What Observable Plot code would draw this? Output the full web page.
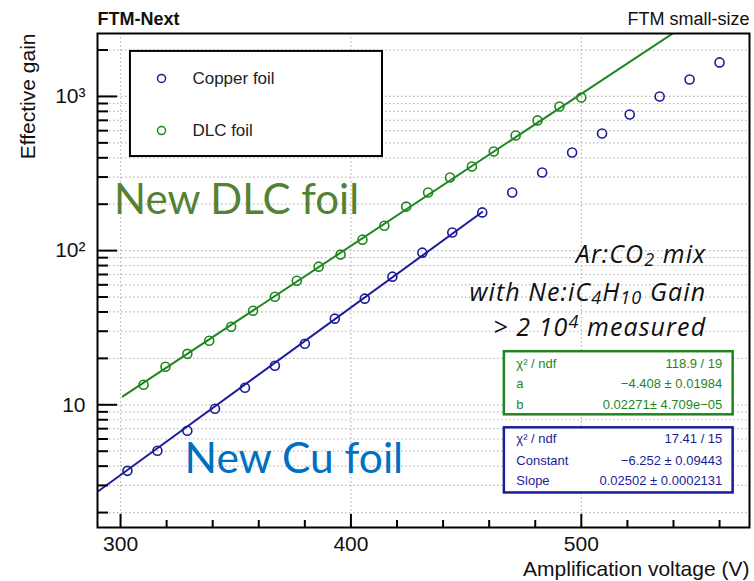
<!DOCTYPE html>
<html><head><meta charset="utf-8">
<script src="https://cdn.jsdelivr.net/npm/d3@7"></script>
<script src="https://cdn.jsdelivr.net/npm/@observablehq/plot@0.6"></script>
<style>body{margin:0;background:#fff} svg{display:block}</style>
</head><body><div id="chart"></div>
<script>
// ---- data ----
const cuVoltage = [303,316,329,341,354,367,380,393,406,418,431,444,457,470,483,496,509,521,534,547,560];
const cuGain    = [3.73,5.03,6.78,9.42,12.9,17.9,24.9,36.2,48.8,67.8,97,131,177,238,321,433,575,764,1000,1289,1663];
const dlcVoltage = [310,319.5,329,338.5,348,357.5,367,376.5,386,395.5,405,414.5,424,433.5,443,452.5,462,471.5,481,490.5,500];
const dlcGain    = [13.5,17.65,21.4,26.0,32.1,40.7,50.2,63.8,78.7,94.2,117.8,145,193,238,298,351,439,558,699,861,985];

// exponential fits exp(a + b*V), parameters from the stat boxes
const fitSeries = ["DLC foil", "Copper foil"];
const fitA = [-4.408, -6.252];
const fitB = [0.02271, 0.02502];
const fitFrom = [301, 290];
const fitTo = [573, 457];

const yMajorTicks = [10, 100, 1000];
const yTickLabels = ["10", "10²", "10³"];
const yMinorTicks = [2,3,4,5,6,7,8,9,20,30,40,50,60,70,80,90,200,300,400,500,600,700,800,900,2000];
const xMajorTicks = [300, 400, 500];
const xTickLabels = ["300", "400", "500"];
const xMinorTicks = [320,340,360,380,420,440,460,480,520,540,560];

const legendLabels = ["Copper foil", "DLC foil"];
const statGreenLabels = ["χ² / ndf", "a", "b"];
const statGreenValues = ["118.9 / 19", "−4.408 ± 0.01984", "0.02271± 4.709e−05"];
const statBlueLabels = ["χ² / ndf", "Constant", "Slope"];
const statBlueValues = ["17.41 / 15", "−6.252 ± 0.09443", "0.02502 ± 0.0002131"];
const annoLines = ["Ar:CO_{2} mix", "with Ne:iC_{4}H_{10} Gain", "> 2 10^{4} measured"];

// ---- build tables ----
const cu = cuVoltage.map((v, i) => ({v, g: cuGain[i]}));
const dlc = dlcVoltage.map((v, i) => ({v, g: dlcGain[i]}));
const fits = fitSeries.flatMap((s, k) => [fitFrom[k], fitTo[k]].map(v => ({s, v, g: Math.exp(fitA[k] + fitB[k] * v)})));

const BLUE = "#1c1c99", GREEN = "#1f861f";
const FONT = "Liberation Sans, Arial, Helvetica, sans-serif";
const CAL = "Lato, 'Open Sans', sans-serif";
const W = 754, H = 581, ML = 97, MR = 5, MT = 33, MB = 54;
const IW = W - ML - MR, IH = H - MT - MB;

const plot = Plot.plot({
  width: W, height: H, marginLeft: ML, marginRight: MR, marginTop: MT, marginBottom: MB,
  style: {fontFamily: FONT, background: "white", overflow: "visible"},
  x: {domain: [290, 573]},
  y: {type: "log", domain: [1.6, 2560]},
  marks: [
    Plot.gridY([...yMinorTicks, ...yMajorTicks], {stroke: "#b8b8b8", strokeOpacity: 1, strokeDasharray: "1.5,2.5", strokeWidth: 1.2}),
    Plot.gridX(xMajorTicks, {stroke: "#b8b8b8", strokeOpacity: 1, strokeDasharray: "1.5,2.5", strokeWidth: 1.2}),
    // legend box
    Plot.rect([0], {x1: 304.3, x2: 413.7, y1: 407.6, y2: 1959, fill: "white", stroke: "black", strokeWidth: 2}),
    Plot.dot([0], {x: 317.8, y: 1309, r: 4, stroke: BLUE, strokeWidth: 1.5}),
    Plot.dot([0], {x: 317.8, y: 601, r: 4, stroke: GREEN, strokeWidth: 1.5}),
    Plot.text(legendLabels, {x: 331.2, y: (d, i) => [1309, 601][i], text: d => d, textAnchor: "start", lineAnchor: "middle", fontSize: 17, fill: "#222"}),
    // stat boxes
    Plot.rect([0], {x1: 466.6, x2: 565.9, y1: 8.61, y2: 22.1, fill: "white", stroke: GREEN, strokeWidth: 2.5}),
    Plot.rect([0], {x1: 466.6, x2: 565.9, y1: 2.68, y2: 7.09, fill: "white", stroke: BLUE, strokeWidth: 2.5}),
    Plot.text(statGreenLabels, {x: 471.8, y: (d, i) => [18.45, 13.69, 10.0][i], text: d => d, textAnchor: "start", lineAnchor: "middle", fontSize: 13, fill: GREEN}),
    Plot.text(statGreenValues, {x: 561.2, y: (d, i) => [18.45, 13.69, 10.0][i], text: d => d, textAnchor: "end", lineAnchor: "middle", fontSize: 13, fill: GREEN}),
    Plot.text(statBlueLabels, {x: 471.8, y: (d, i) => [6.01, 4.33, 3.21][i], text: d => d, textAnchor: "start", lineAnchor: "middle", fontSize: 13, fill: BLUE}),
    Plot.text(statBlueValues, {x: 561.2, y: (d, i) => [6.01, 4.33, 3.21][i], text: d => d, textAnchor: "end", lineAnchor: "middle", fontSize: 13, fill: BLUE}),
    // fit lines
    Plot.line(fits, {x: "v", y: "g", z: "s", stroke: d => d.s === "DLC foil" ? GREEN : BLUE, strokeWidth: 2, clip: true}),
    // data
    Plot.dot(cu, {x: "v", y: "g", r: 4.5, stroke: BLUE, strokeWidth: 1.6, clip: true}),
    Plot.dot(dlc, {x: "v", y: "g", r: 4.5, stroke: GREEN, strokeWidth: 1.6, clip: true}),
    // frame and inner ticks
    Plot.frame({stroke: "black", strokeWidth: 2}),
    Plot.tickY(yMajorTicks, {insetRight: IW - 20, stroke: "black", strokeWidth: 2}),
    Plot.tickY(yMinorTicks, {insetRight: IW - 11, stroke: "black", strokeWidth: 2}),
    Plot.tickX(xMajorTicks, {insetTop: IH - 13, stroke: "black", strokeWidth: 2}),
    Plot.tickX(xMinorTicks, {insetTop: IH - 7, stroke: "black", strokeWidth: 2}),
    // axis labels
    Plot.axisY(yMajorTicks, {tickSize: 0, tickPadding: 12, fontSize: 21, label: null, tickFormat: d => yTickLabels[yMajorTicks.indexOf(d)], fill: "#111"}),
    Plot.axisX(xMajorTicks, {tickSize: 0, tickPadding: 9, fontSize: 21, label: null, tickFormat: d => xTickLabels[xMajorTicks.indexOf(d)], fill: "#111"}),
    Plot.text(["Effective gain"], {x: 260.1, y: 2560, rotate: -90, textAnchor: "end", lineAnchor: "middle", fontSize: 21, fill: "#111"}),
    Plot.text(["Amplification voltage (V)"], {frameAnchor: "bottom-right", dy: 48, textAnchor: "end", lineAnchor: "bottom", fontSize: 21, fill: "#111"}),
    Plot.text(["FTM-Next"], {frameAnchor: "top-left", dy: -9, textAnchor: "start", lineAnchor: "bottom", fontSize: 18, fontWeight: "bold", fill: "#111"}),
    Plot.text(["FTM small-size"], {frameAnchor: "top-right", dy: -9, textAnchor: "end", lineAnchor: "bottom", fontSize: 18, fill: "#111"}),
    // annotations
    Plot.text(["New DLC foil"], {x: 297.2, y: 174, textAnchor: "start", lineAnchor: "bottom", fontSize: 42, fontFamily: CAL, fill: "#548235"}),
    Plot.text(["New Cu foil"], {x: 327.8, y: 3.59, textAnchor: "start", lineAnchor: "bottom", fontSize: 42.5, fontFamily: CAL, fill: "#0070c0"}),
    Plot.text(annoLines, {x: 554.2, y: (d, i) => [83.6, 47.3, 28.1][i], text: d => d, textAnchor: "end", lineAnchor: "bottom", fontSize: 25, fontFamily: "'Open Sans', Lato, sans-serif", fontStyle: "italic", fill: "#111", className: "anno", style: "letter-spacing:1.1px"})
  ]
});
document.getElementById("chart").append(plot);

// turn _{..} / ^{..} markup into sub/superscript tspans
d3.select(plot).selectAll(".anno text").each(function () {
  const el = d3.select(this);
  el.style("letter-spacing", "1.1px");
  const s = el.text();
  el.text(null);
  const re = /([_^])\{([^}]*)\}/g;
  let last = 0, m, reset = null;
  const plain = (t) => {
    const ts = el.append("tspan").text(t);
    if (reset) { ts.attr("dy", reset); reset = null; }
  };
  while ((m = re.exec(s))) {
    if (m.index > last) plain(s.slice(last, m.index));
    const sub = m[1] === "_";
    el.append("tspan").attr("dy", sub ? "0.2em" : "-0.4em").attr("font-size", "0.72em").text(m[2]);
    reset = sub ? "-0.144em" : "0.288em";
    last = re.lastIndex;
  }
  if (last < s.length) plain(s.slice(last));
});
</script>
</body></html>
